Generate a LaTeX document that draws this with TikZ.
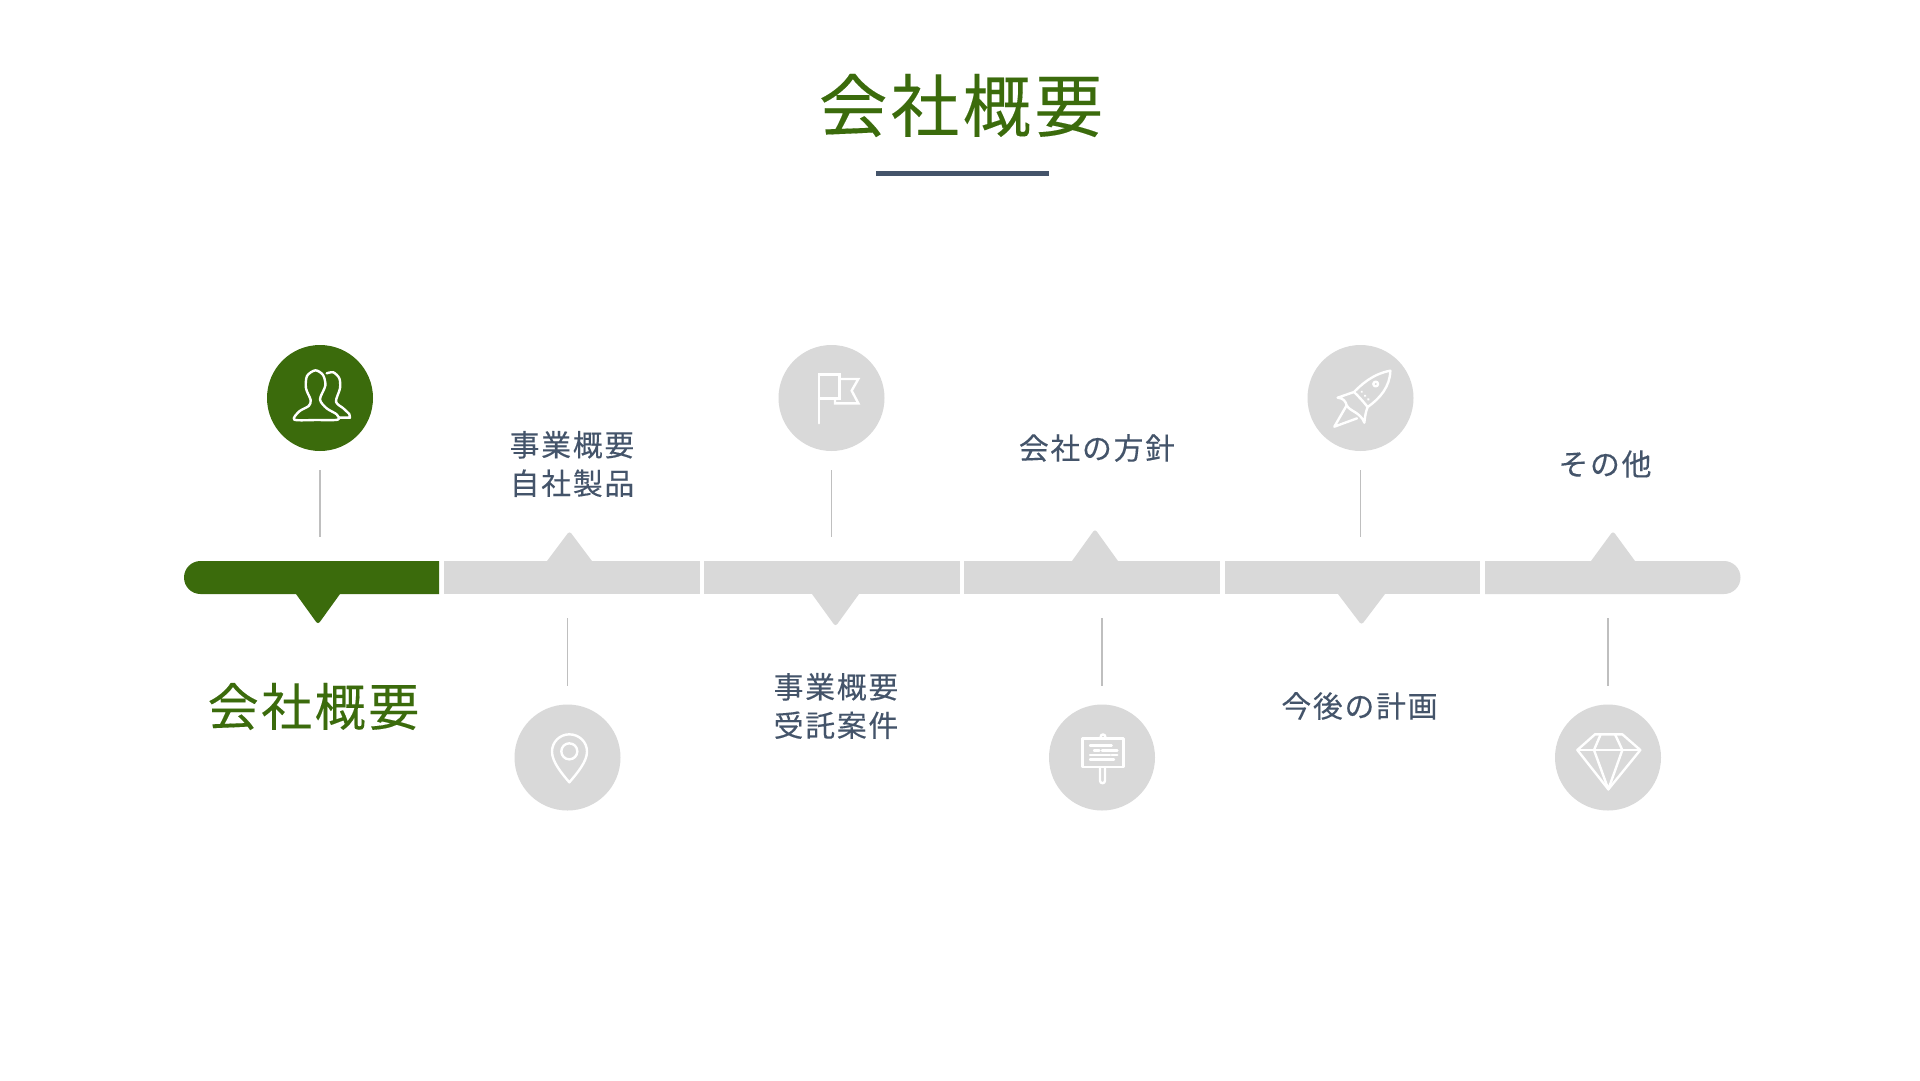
\documentclass[tikz,border=0pt]{standalone}
\usepackage{fontspec}
\newfontfamily\jpA[LetterSpace=5,FakeBold=0.15]{Noto Sans CJK JP}
\newfontfamily\jpB[LetterSpace=6,FakeBold=0.25]{Noto Sans CJK JP}
\definecolor{dgreen}{HTML}{3B6B0C}
\definecolor{slate}{HTML}{44546A}
\definecolor{barg}{HTML}{D9D9D9}
\definecolor{ling}{HTML}{BFBFBF}
\tikzset{
  lbl/.style={inner sep=0pt,align=center,text=slate,font=\jpB\fontsize{29.8}{38.5}\selectfont},
  biglbl/.style={inner sep=0pt,text=dgreen,font=\jpA\fontsize{51}{60}\selectfont},
  ttl/.style={inner sep=0pt,text=dgreen,font=\jpA\fontsize{68.5}{80}\selectfont},
  disc/.style={circle,inner sep=0pt,minimum size=106pt,fill=#1},
  conn/.style={draw=ling,line width=1.8pt},
  ic/.style={draw=white,line width=2.4pt,line join=round,line cap=round,fill=none},
  zoomed/.style={x=0.33333pt,y=-0.33333pt},
}
\begin{document}
\begin{tikzpicture}[x=1pt,y=-1pt]
\useasboundingbox (0,0) rectangle (1920,1080);
\fill[white] (0,0) rectangle (1920,1080);
% title
\node[ttl] (title) at (961,105.5) {会社概要};
\coordinate (ulL) at (876,173);
\coordinate (ulR) at (1049,173);
\draw[slate,line width=5pt] (ulL) -- (ulR);
% bar
\coordinate (bartop) at (0,561);
\coordinate (barbot) at (0,594);
\fill[dgreen] (439,561) -- (200.5,561) .. controls (191.4,561) and (184,568.4) .. (184,577.5) .. controls (184,586.6) and (191.4,594) .. (200.5,594) -- (439,594) -- cycle;
\fill[barg] (444,561) rectangle (700,594);
\fill[barg] (704,561) rectangle (960,594);
\fill[barg] (964,561) rectangle (1220,594);
\fill[barg] (1225,561) rectangle (1480,594);
\fill[barg] (1485,594) -- (1724,594) .. controls (1733.1,594) and (1740.5,586.6) .. (1740.5,577.5) .. controls (1740.5,568.4) and (1733.1,561) .. (1724,561) -- (1485,561) -- cycle;
% tips down
\fill[dgreen] (296,593) -- (340,593) -- (340,594) [rounded corners=3pt] -- (318,624.5) [sharp corners] -- (296,594) -- cycle;
\fill[barg] (812,593) -- (859,593) -- (859,594) [rounded corners=3pt] -- (835.5,626.5) [sharp corners] -- (812,594) -- cycle;
\fill[barg] (1338,593) -- (1385,593) -- (1385,594) [rounded corners=3pt] -- (1361.5,625) [sharp corners] -- (1338,594) -- cycle;
% tips up
\fill[barg] (547,562) -- (592,562) -- (592,561) [rounded corners=3pt] -- (569.5,531) [sharp corners] -- (547,561) -- cycle;
\fill[barg] (1072,562) -- (1118,562) -- (1118,561) [rounded corners=3pt] -- (1095,529) [sharp corners] -- (1072,561) -- cycle;
\fill[barg] (1591,562) -- (1635,562) -- (1635,561) [rounded corners=3pt] -- (1613,531) [sharp corners] -- (1591,561) -- cycle;
% discs
\node[disc=dgreen] (c1) at (320,398) {};
\node[disc=barg] (c2) at (567.5,757.5) {};
\node[disc=barg] (c3) at (831.5,398) {};
\node[disc=barg] (c4) at (1102,757.5) {};
\node[disc=barg] (c5) at (1360.5,398) {};
\node[disc=barg] (c6) at (1608,757.5) {};
% connectors
\foreach \n in {c1,c3,c5}
  \draw[conn,shorten <=19pt,shorten >=24pt] (\n.south) -- (\n.south |- bartop);
\foreach \n in {c2,c4,c6}
  \draw[conn,shorten <=18.5pt,shorten >=24pt] (\n.north) -- (\n.north |- barbot);
% labels
\node[biglbl] (l1) at (313.5,706.5) {会社概要};
\node[lbl] (l2) at (572,464) {事業概要\\自社製品};
\node[lbl] (l3) at (836,706) {事業概要\\受託案件};
\node[lbl] (l4) at (1097,448) {会社の方針};
\node[lbl] (l5) at (1359.5,706) {今後の計画};
\node[lbl] (l6) at (1605,464) {その他};
% people icon
\begin{scope}[shift={(170pt,-320pt)},zoomed]
\draw[ic] plot[smooth cycle,tension=0.5] coordinates {(373,299) (388,274) (416,258) (422,240) (408,205) (411,168) (436,151) (459,165) (466,197) (450,238) (470,265) (500,283) (503,299) (440,300)};
\draw[ic] plot[smooth,tension=0.5] coordinates {(470,160) (490,157) (508,175) (510,205) (498,245) (520,265) (538,282)};
\draw[ic] (538,282) -- (540,293) -- (507,293);
\end{scope}
% pin icon
\begin{scope}[shift={(490pt,-690pt)},zoomed]
\draw[ic] (238,277) .. controls (215,250) and (186,215) .. (186,185) .. controls (186,155) and (210,133) .. (238,133) .. controls (267,133) and (291,155) .. (291,185) .. controls (291,215) and (261,250) .. (238,277) -- cycle;
\draw[ic] (238,184) circle[radius=24];
\end{scope}
% flag icon
\begin{scope}[shift={(760pt,-330pt)},zoomed]
\draw[ic,line join=miter] (177,280) -- (177,133) -- (238,133) -- (238,205) -- (177,205);
\draw[ic,line join=miter] (238,147) -- (295,147) -- (275,182) -- (295,220) -- (225,220) -- (225,205);
\end{scope}
% signboard icon
\begin{scope}[shift={(1030pt,-690pt)},zoomed]
\draw[ic] (158,145) rectangle (280,231);
\draw[ic] (210,231) -- (210,272) .. controls (210,282) and (225,282) .. (225,272) -- (225,231);
\draw[ic] (211,145) .. controls (211,129) and (227,129) .. (227,145);
\draw[ic] (180,167) -- (245,167);
\draw[ic] (192,181) -- (208,181) (216,181) -- (262,181);
\draw[ic] (180,195) -- (240,195) (245,195) -- (262,195);
\draw[ic] (180,209) -- (252,209);
\end{scope}
% rocket icon
\begin{scope}[shift={(1285pt,-330pt)},zoomed]
\draw[ic] (316,122) .. controls (262,132) and (228,165) .. (207,186) -- (158,203) .. controls (175,204) and (182,214) .. (185,226) .. controls (195,245) and (225,245) .. (238,278) .. controls (240,260) and (242,245) .. (248,231) .. controls (285,205) and (315,170) .. (316,122) -- cycle;
\draw[ic] (207,186) .. controls (220,198) and (235,215) .. (248,231);
\draw[ic] (185,226) -- (148,290) -- (216,265);
\draw[ic] (272,162) circle[radius=7];
\draw[ic] (230,185) -- (230.5,185.5) (240,197) -- (240.5,197.5) (250,208) -- (250.5,208.5);
\end{scope}
% diamond icon
\begin{scope}[shift={(1535pt,-690pt)},zoomed]
\draw[ic] (127,180) -- (180,133) -- (262,133) -- (316,180) -- (220,298) -- cycle;
\draw[ic] (127,180) -- (316,180);
\draw[ic] (197,133) -- (177,180) -- (220,298) -- (262,180) -- (240,133);
\end{scope}
\end{tikzpicture}
\end{document}
